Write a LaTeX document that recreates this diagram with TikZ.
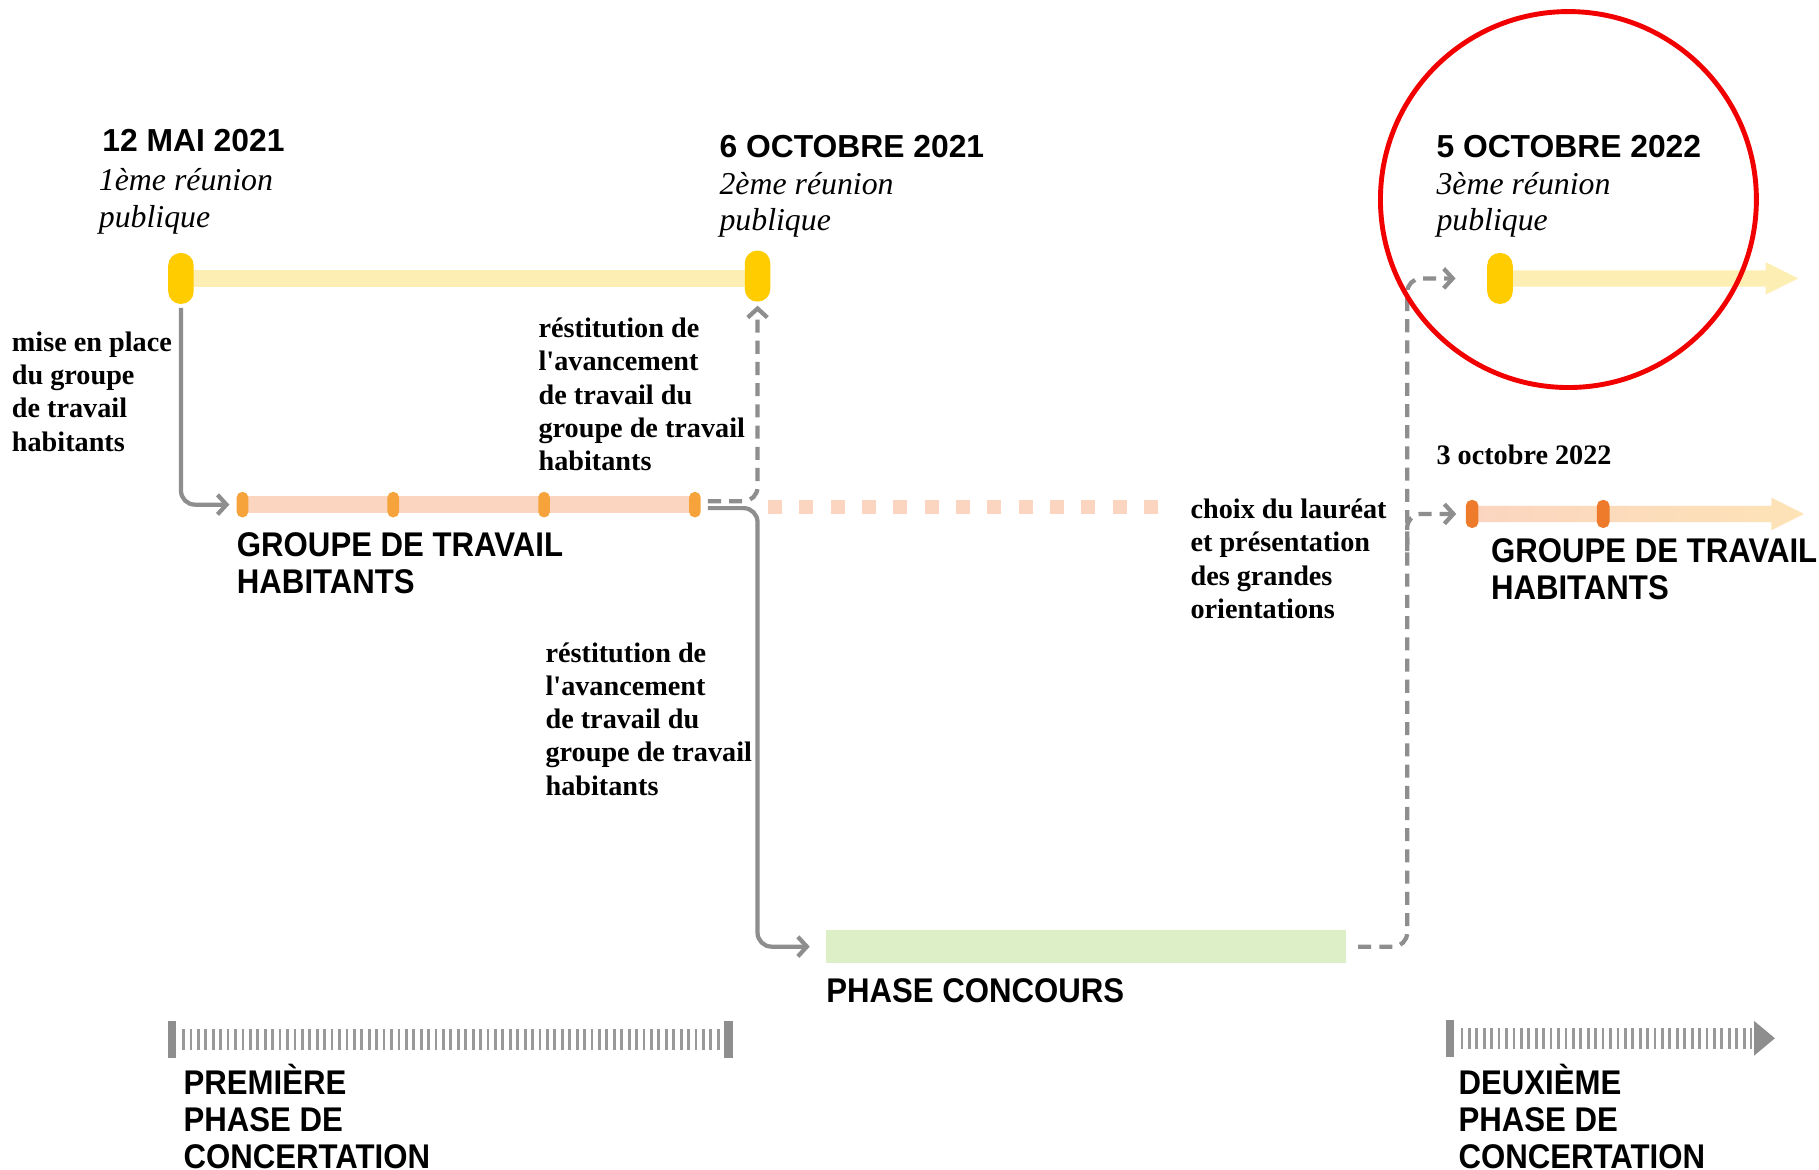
\documentclass[tikz,border=0pt]{standalone}
\usepackage{fontspec}
\setmainfont{Liberation Serif}
\setsansfont{Liberation Sans}
\newfontfamily\condsans[FakeStretch=0.91]{Liberation Sans}
\usetikzlibrary{arrows.meta}
\definecolor{yelD}{HTML}{FFCC00}
\definecolor{yelL}{HTML}{FDEFB4}
\definecolor{orgL}{HTML}{FBD5C0}
\definecolor{orgM}{HTML}{F5A33A}
\definecolor{orgD}{HTML}{EE7B2B}
\definecolor{orgY}{HTML}{FDE3B6}
\definecolor{grnL}{HTML}{DDEFC6}
\definecolor{gry}{HTML}{8E8E8E}
\definecolor{redC}{HTML}{F20000}
\tikzset{
  pill/.style={fill=yelD, draw=none, minimum width=0.55cm, minimum height=1.1cm, rounded corners=0.27cm, inner sep=0},
  omark/.style={fill=orgM, draw=none, minimum width=0.25cm, minimum height=0.55cm, rounded corners=0.12cm, inner sep=0},
  omarkD/.style={omark, fill=orgD, minimum width=0.27cm, minimum height=0.6cm},
  conn/.style={draw=gry, line width=2.6pt, rounded corners=0.3cm, -{Straight Barb[length=5.5pt,width=12pt]}},
  dconn/.style={conn, dash pattern=on 8pt off 5pt},
  datelbl/.style={font=\sffamily\bfseries\fontsize{19.5}{23}\selectfont, anchor=base west, inner sep=0},
  itlbl/.style={font=\itshape\fontsize{19.5}{22.5}\selectfont, align=left, anchor=north west, inner sep=0},
  txtlbl/.style={font=\bfseries\fontsize{17.3}{20.3}\selectfont, align=left, anchor=north west, inner sep=0},
  biglbl/.style={font=\condsans\bfseries\fontsize{21}{22.8}\selectfont, align=left, anchor=north west, inner sep=0},
}
\begin{document}
\begin{tikzpicture}[x=0.025cm, y=-0.025cm]
\useasboundingbox (0,0) rectangle (1568,1008);
\fill[white] (0,0) rectangle (1568,1008);

% bars (drawn first)
\draw[yelL, line width=0.37cm] (160,240) -- (650,240);
\draw[orgL, line width=0.37cm] (209,435) -- (599,435);
\draw[orgL, line width=0.3cm, dash pattern=on 0.3cm off 0.375cm] (662,437) -- (1010,437);
\fill[yelL] (1300,233) -- (1522,233) -- (1522,226) -- (1550,240) -- (1522,254) -- (1522,247) -- (1300,247) -- cycle;
\shade[left color=orgL, middle color=orgL, right color=orgY] (1269,436) -- (1527,436) -- (1527,429) -- (1555,443) -- (1527,457) -- (1527,450) -- (1269,450) -- cycle;

% pills and markers
\node[pill] (p1) at (156,240) {};
\node[pill] (p2) at (653,238) {};
\node[pill] (p3) at (1293,240) {};
\node[omark] (m1) at (209,435) {};
\node[omark] (m2) at (339,435) {};
\node[omark] (m3) at (469,435) {};
\node[omark] (m4) at (599,435) {};
\node[omarkD] (r1) at (1269,443) {};
\node[omarkD] (r2) at (1382,443) {};
\node[fill=grnL, minimum width=11.2cm, minimum height=0.7cm, inner sep=0, anchor=west] (phase) at (712,816) {};

% bottom phase bars
\fill[gry] (144.5,880) rectangle (151.5,912);
\fill[gry] (624.5,880) rectangle (631.5,912);
\draw[gry!90, line width=0.45cm, dash pattern=on 0.06cm off 0.1cm] (157,896) -- (622,896);
\fill[gry] (1246.5,879) rectangle (1253.5,911);
\draw[gry!90, line width=0.45cm, dash pattern=on 0.06cm off 0.1cm] (1259,895) -- (1510,895);
\fill[gry] (1512,880) -- (1530,895) -- (1512,910) -- cycle;

% connectors
\coordinate (vx) at (1213,500);
\coordinate (br) at (1213,475);
\draw[conn] ([yshift=-0.08cm]p1.south) |- ([xshift=-0.15cm]m1.west);
\draw[dconn] ([xshift=0.15cm,yshift=0.075cm]m4.east) -| ([yshift=-0.08cm]p2.south);
\draw[conn] ([xshift=0.15cm,yshift=-0.075cm]m4.east) -| (p2.south |- phase.west) -- ([xshift=-0.35cm]phase.west);
\draw[dconn] ([xshift=0.25cm]phase.east) -| (vx) |- ([xshift=-0.675cm]p3.west);
\draw[dconn] (br) |- ([xshift=-0.2cm]r1.west);

% texts
\node[datelbl] (t1) at (88,131) {12 MAI 2021};
\node[itlbl] (i1) at (85,145) {1ème réunion\\publique};
\node[datelbl] (t2) at (620,136) {6 OCTOBRE 2021};
\node[itlbl] (i2) at (620,148) {2ème réunion\\publique};
\node[datelbl] (t3) at (1238,136) {5 OCTOBRE 2022};
\node[itlbl] (i3) at (1238,148) {3ème réunion\\publique};
\node[txtlbl] (l1) at (10,286) {mise en place\\du groupe\\de travail\\habitants};
\node[txtlbl] (l2) at (464,274) {réstitution de\\l\textquotesingle avancement\\de travail du\\groupe de travail\\habitants};
\node[biglbl] (g1) at (204,459) {GROUPE DE TRAVAIL\\HABITANTS};
\node[txtlbl] (l3) at (1026,430) {choix du lauréat\\et présentation\\des grandes\\orientations};
\node[txtlbl] (l4) at (470,554) {réstitution de\\l\textquotesingle avancement\\de travail du\\groupe de travail\\habitants};
\node[datelbl, font=\condsans\bfseries\fontsize{21}{23}\selectfont] (pc) at (712,864) {PHASE CONCOURS};
\node[txtlbl, anchor=base west] (d3) at (1238,400) {3 octobre 2022};
\node[biglbl] (g2) at (1285,464) {GROUPE DE TRAVAIL\\HABITANTS};
\node[biglbl] (b1) at (158,917) {PREMIÈRE\\PHASE DE\\CONCERTATION};
\node[biglbl] (b2) at (1257,917) {DEUXIÈME\\PHASE DE\\CONCERTATION};

% highlight circle
\draw[redC, line width=3pt] (1352,172) circle [radius=4.05cm];
\end{tikzpicture}
\end{document}
